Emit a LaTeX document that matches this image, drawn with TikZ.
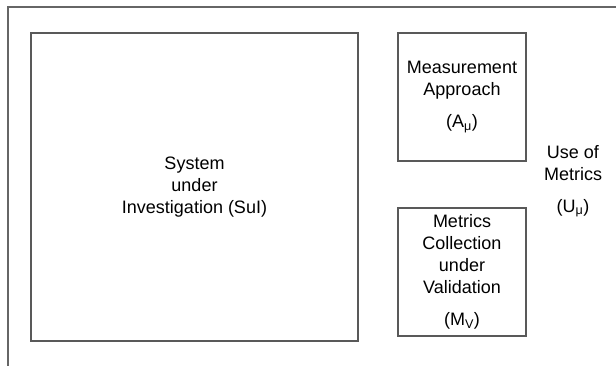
\documentclass[tikz,border=0pt]{standalone}
\usepackage{fontspec}
\setmainfont{Liberation Sans}
\usetikzlibrary{positioning}

\begin{document}
\begin{tikzpicture}[
	x=1pt, y=-1pt,
	font=\fontsize{18}{22}\selectfont,
	caixa/.style={rectangle, draw=black!65, line width=1.3pt, align=center, inner sep=0pt},
	rotulo/.style={align=center, inner sep=0pt},
	moldura/.style={draw=black!60, line width=1.3pt},
]
\useasboundingbox (0,0) rectangle (616,365);
\clip (0,0) rectangle (616,365);
\draw[moldura] (8,7) rectangle (640,390);

\node[caixa, minimum width=327pt, minimum height=308pt] (sui) at (194.5,187) {System\\under\\Investigation (SuI)};
\node[caixa, minimum width=128pt, minimum height=128pt] (aprox) at (462,97) {Measurement\\Approach\\[10pt](A\textsubscript{μ})};
\node[caixa, minimum width=128pt, minimum height=128pt] (colecao) at (462,272) {Metrics\\Collection\\under\\Validation\\[10pt](M\textsubscript{V})};
\node[rotulo] (uso) at (573,181) {Use of\\Metrics\\[10pt](U\textsubscript{μ})};
\end{tikzpicture}
\end{document}
